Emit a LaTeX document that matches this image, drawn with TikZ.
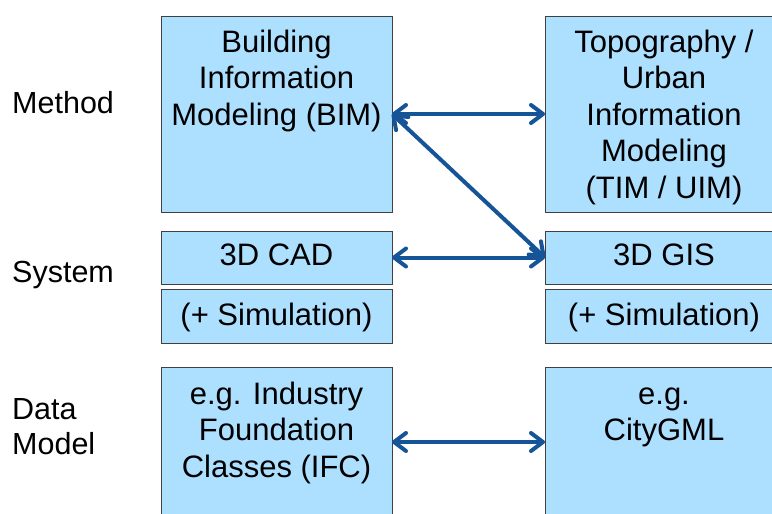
\documentclass[tikz,border=0pt]{standalone}
\usepackage{fontspec}
\setmainfont{Liberation Sans}
\usetikzlibrary{arrows.meta}
\definecolor{boxfill}{RGB}{173,223,255}
\definecolor{boxline}{RGB}{64,64,64}
\definecolor{arrowblue}{RGB}{22,84,152}
\newcommand{\firststrut}{\rule{0pt}{23pt}}
\begin{document}
\begin{tikzpicture}[x=1pt,y=-1pt,
  box/.style={draw=boxline,fill=boxfill,line width=0.8pt,inner sep=0pt,outer sep=0pt,anchor=north west},
  txt/.style={font=\fontsize{31}{36.5}\selectfont,align=center,inner sep=0pt,anchor=north},
  stxt/.style={font=\fontsize{31}{36.5}\selectfont,inner sep=0pt,anchor=base},
  lbl/.style={font=\fontsize{30.5}{35}\selectfont,align=left,inner sep=0pt,anchor=north west},
  link/.style={draw=arrowblue,line width=4pt,{Straight Barb[length=12pt,width=18pt,round]}-{Straight Barb[length=12pt,width=18pt,round]}}]
\useasboundingbox (0,0) rectangle (772,514);
% boxes
\node[box,minimum width=231pt,minimum height=196pt] (bim) at (161,16) {};
\node[box,minimum width=240pt,minimum height=196pt] (tim) at (545,16) {};
\node[box,minimum width=231pt,minimum height=53pt] (cad) at (161,231) {};
\node[box,minimum width=240pt,minimum height=53pt] (gis) at (545,231) {};
\node[box,minimum width=231pt,minimum height=54pt] (simL) at (161,289) {};
\node[box,minimum width=240pt,minimum height=54pt] (simR) at (545,289) {};
\node[box,minimum width=231pt,minimum height=150pt] (ifc) at (161,367) {};
\node[box,minimum width=240pt,minimum height=150pt] (gml) at (545,367) {};
% texts
\node[txt] (bimt) at (276.5,29) {\firststrut Building\\Information\\Modeling (BIM)};
\node[txt] (timt) at (664,29) {\firststrut Topography /~\\Urban\\Information\\Modeling\\(TIM / UIM)};
\node[stxt] (cadt) at (276.5,265) {3D CAD};
\node[stxt] (gist) at (664,265) {3D GIS};
\node[stxt] (simLt) at (276.5,325) {(+ Simulation)};
\node[stxt] (simRt) at (664,325) {(+ Simulation)};
\node[txt] (ifct) at (276.5,381) {\firststrut e.g. Industry\\Foundation\\Classes (IFC)};
\node[txt] (gmlt) at (664,381) {\firststrut e.g.\\CityGML};
% row labels
\node[font=\fontsize{30.5}{35}\selectfont,inner sep=0pt,anchor=base west] (method) at (12,113) {Method};
\node[font=\fontsize{30.5}{35}\selectfont,inner sep=0pt,anchor=base west] (system) at (12,282) {System};
\node[lbl] (datamodel) at (12,396) {\firststrut Data\\Model};
% connectors
\draw[link] (bim.east) -- (tim.west);
\draw[link] (bim.east) -- (gis.west);
\draw[link] (cad.east) -- (gis.west);
\draw[link] (ifc.east) -- (gml.west);
\end{tikzpicture}
\end{document}
